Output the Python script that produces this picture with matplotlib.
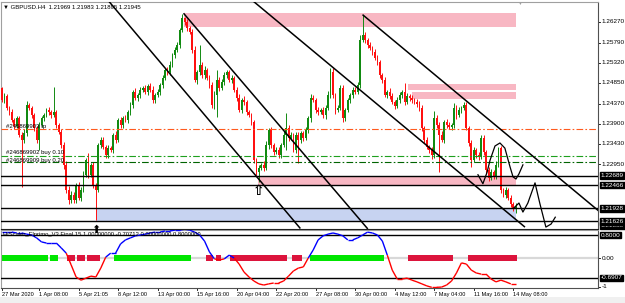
import matplotlib
matplotlib.use('Agg')
import matplotlib.pyplot as plt
import matplotlib.transforms as mtransforms
from matplotlib.patches import Rectangle
from matplotlib.collections import LineCollection
import numpy as np

plt.rcParams['font.family'] = ['Liberation Sans', 'DejaVu Sans']

# GBPUSD H4 candles, one close per bar (open = previous close)
first_open = 1.2473
closes = [
    1.2445, 1.2455, 1.2427, 1.2417, 1.2399, 1.2385, 1.2403, 1.2364, 1.2352, 1.2368,
    1.2434, 1.2427, 1.2410, 1.2380, 1.2352, 1.2387, 1.2403, 1.2410, 1.2422, 1.2417,
    1.2410, 1.2417, 1.2387, 1.2371, 1.2340, 1.2294, 1.2236, 1.2212, 1.2224, 1.2212,
    1.2247, 1.2217, 1.2236, 1.2271, 1.2305, 1.2271, 1.2294, 1.2247, 1.2236, 1.2340,
    1.2352, 1.2336, 1.2317, 1.2333, 1.2329, 1.2364, 1.2352, 1.2399, 1.2387, 1.2403,
    1.2399, 1.2417, 1.2434, 1.2464, 1.2450, 1.2457, 1.2469, 1.2473, 1.2464, 1.2478,
    1.2469, 1.2445, 1.2457, 1.2464, 1.2480, 1.2497, 1.2515, 1.2510, 1.2527, 1.2550,
    1.2562, 1.2573, 1.2608, 1.2636, 1.2627, 1.2613, 1.2604, 1.2562, 1.2492, 1.2510,
    1.2527, 1.2503, 1.2515, 1.2497, 1.2480, 1.2434, 1.2457, 1.2492, 1.2473, 1.2487,
    1.2503, 1.2510, 1.2492, 1.2497, 1.2469, 1.2450, 1.2422, 1.2445, 1.2441, 1.2417,
    1.2410, 1.2394, 1.2305, 1.2278, 1.2287, 1.2294, 1.2287, 1.2340, 1.2375, 1.2340,
    1.2324, 1.2329, 1.2317, 1.2340, 1.2364, 1.2380, 1.2357, 1.2364, 1.2329, 1.2364,
    1.2352, 1.2368, 1.2357, 1.2375, 1.2403, 1.2450, 1.2445, 1.2422, 1.2417, 1.2422,
    1.2410, 1.2427, 1.2457, 1.2510, 1.2457, 1.2422, 1.2427, 1.2473, 1.2403, 1.2422,
    1.2445, 1.2457, 1.2469, 1.2464, 1.2480, 1.2585, 1.2597, 1.2585, 1.2573, 1.2566,
    1.2557, 1.2543, 1.2534, 1.2503, 1.2492, 1.2457, 1.2464, 1.2455, 1.2441, 1.2431,
    1.2445, 1.2457, 1.2464, 1.2441, 1.2455, 1.2450, 1.2445, 1.2441, 1.2436, 1.2427,
    1.2380, 1.2352, 1.2336, 1.2329, 1.2317, 1.2403, 1.2387, 1.2364, 1.2352, 1.2394,
    1.2387, 1.2382, 1.2387, 1.2427, 1.2410, 1.2422, 1.2427, 1.2434, 1.2380, 1.2345,
    1.2305, 1.2329, 1.2317, 1.2312, 1.2357, 1.2324, 1.2282, 1.2264, 1.2278, 1.2268,
    1.2294, 1.2333, 1.2236, 1.2224, 1.2236, 1.2217, 1.2203, 1.2191, 1.2195,
]
# wick lengths in pips (0.0001) above / below the body
wick_up = [
    3, 6, 5, 4, 8, 5, 6, 4, 7, 9,
    8, 5, 4, 6, 5, 7, 4, 6, 5, 8,
    6, 59, 5, 4, 6, 7, 10, 8, 8, 6,
    5, 7, 6, 8, 6, 17, 5, 6, 4, 5,
    6, 8, 5, 7, 6, 5, 9, 4, 6, 5,
    7, 5, 6, 5, 8, 4, 6, 5, 7, 5,
    6, 8, 5, 6, 4, 7, 5, 6, 8, 5,
    6, 7, 5, 10, 3, 6, 5, 7, 8, 6,
    46, 6, 9, 5, 7, 6, 8, 23, 6, 7,
    8, 5, 6, 7, 5, 6, 8, 6, 9, 5,
    6, 5, 4, 6, 7, 5, 8, 9, 6, 7,
    5, 6, 7, 5, 8, 35, 6, 7, 5, 6,
    7, 5, 6, 8, 6, 9, 7, 5, 6, 5,
    7, 6, 8, 10, 9, 5, 7, 8, 6, 5,
    6, 5, 7, 6, 8, 12, 46, 6, 5, 7,
    5, 6, 8, 5, 6, 7, 5, 8, 6, 5,
    7, 6, 5, 21, 6, 5, 7, 5, 6, 8,
    6, 5, 7, 5, 6, 16, 7, 6, 8, 5,
    6, 7, 5, 11, 6, 8, 5, 7, 6, 5,
    7, 6, 5, 8, 6, 7, 5, 6, 7, 5,
    8, 3, 6, 5, 7, 5, 6, 4, 10,
]
wick_dn = [
    5, 6, 4, 7, 5, 8, 6, 5, 109, 7,
    6, 5, 7, 8, 6, 23, 5, 6, 4, 7,
    6, 5, 8, 6, 7, 9, 8, 10, 7, 6,
    8, 6, 7, 5, 6, 7, 5, 8, 70, 6,
    7, 5, 8, 6, 5, 7, 6, 5, 8, 6,
    5, 7, 6, 8, 5, 6, 7, 5, 6, 8,
    5, 6, 7, 5, 8, 6, 5, 7, 6, 5,
    6, 5, 7, 5, 6, 8, 5, 7, 6, 9,
    6, 7, 8, 5, 6, 7, 9, 51, 6, 5,
    7, 6, 5, 8, 6, 7, 5, 6, 8, 7,
    5, 6, 7, 8, 24, 6, 7, 5, 8, 6,
    7, 5, 6, 8, 5, 35, 7, 6, 5, 8,
    54, 6, 7, 5, 6, 8, 5, 7, 6, 5,
    6, 8, 5, 7, 6, 9, 5, 6, 8, 7,
    5, 6, 7, 5, 6, 8, 5, 6, 7, 5,
    6, 5, 7, 6, 8, 5, 6, 7, 5, 6,
    5, 7, 6, 8, 5, 6, 7, 5, 6, 7,
    8, 6, 5, 7, 10, 6, 8, 86, 5, 7,
    6, 5, 7, 6, 8, 5, 7, 6, 5, 8,
    16, 5, 7, 6, 5, 8, 6, 7, 5, 6,
    7, 6, 7, 5, 8, 6, 7, 5, 10,
]

# oscillator, sampled every 2 bars
osc_step = 2
osc = [
    0.90, 0.90, 0.90, 0.87, 0.87, 0.83, 0.80, 0.70, 0.56, 0.52,
    0.52, 0.52, 0.35, 0.17, -0.24, -0.66, -0.77, -0.70, -0.63, -0.66,
    -0.35, 0.03, 0.17, 0.17, 0.49, 0.63, 0.70, 0.77, 0.80, 0.83,
    0.87, 0.90, 0.90, 0.94, 0.94, 0.97, 0.97, 1.00, 0.97, 0.90,
    0.80, 0.59, 0.21, -0.03, -0.07, -0.03, 0.10, 0.00, -0.21, -0.49,
    -0.66, -0.80, -0.90, -0.94, -0.90, -0.87, -0.87, -0.80, -0.63, -0.45,
    -0.35, -0.31, 0.00, 0.28, 0.63, 0.77, 0.83, 0.87, 0.83, 0.77,
    0.63, 0.63, 0.70, 0.80, 0.90, 0.87, 0.80, 0.59, 0.10, -0.42,
    -0.73, -0.73, -0.70, -0.77, -0.83, -0.90, -0.97, -1.02, -1.02, -1.01,
    -0.94, -0.80, -0.52, -0.17, -0.21, -0.42, -0.52, -0.56, -0.56, -0.73,
    -0.83, -0.77, -0.83, -0.90, -0.90,
]
# trend state per bar as runs: g = up, r = down, n = none
status_runs = [('g', 19), ('n', 1), ('g', 3), ('n', 4), ('r', 3), ('n', 1), ('r', 3),
               ('n', 1), ('r', 5), ('n', 6), ('g', 31), ('n', 6), ('r', 3), ('n', 1),
               ('r', 2), ('n', 4), ('r', 23), ('n', 2), ('r', 4), ('n', 3), ('g', 30),
               ('n', 10), ('r', 18), ('n', 6), ('r', 20)]

date_bars = [0, 15, 31, 47, 63, 79, 95, 111, 127, 143, 159, 175, 191, 207]
date_labels = ['27 Mar 2020', '1 Apr 08:00', '5 Apr 21:05', '8 Apr 12:00', '13 Apr 00:00',
               '15 Apr 16:00', '20 Apr 04:00', '22 Apr 20:00', '27 Apr 08:00',
               '30 Apr 00:00', '4 May 12:00', '7 May 04:00', '11 May 16:00', '14 May 08:00']

price_ticks = [1.2627, 1.2579, 1.2532, 1.2485, 1.2437, 1.2390, 1.2343, 1.2295]
black_levels = [1.22689, 1.22466, 1.21928, 1.21626]
tp_level = 1.2377
buy_levels = [1.2315, 1.2300]
osc_levels = [0.8, -0.6907]

# zones: bar from, bar to, price low, price high
pink_zones = [(73.7, 208.2, 1.2616, 1.2647), (164.4, 208.2, 1.2469, 1.2483),
              (166.0, 208.2, 1.2448, 1.2464), (103.6, 208.2, 1.22466, 1.22689)]
blue_zone = (38.0, 208.2, 1.21626, 1.21928)

# channel lines: (bar, price) -> (bar, price)
channels = [((43.0, 1.2677), (120.6, 1.2147)), ((73.7, 1.2646), (147.9, 1.2146)),
            ((101.2, 1.2678), (211.5, 1.2150)), ((146.2, 1.2643), (241.3, 1.2188))]

# hand drawn projections
path1_x = [192.7, 194.7, 196.4, 197.6, 199.6, 201.6, 203.6, 205.7, 206.9, 208.1, 209.3, 210.9]
path1_y = [1.2271, 1.2250, 1.2277, 1.2305, 1.2338, 1.2345, 1.2333, 1.2289, 1.2266, 1.2261, 1.2273, 1.2294]
path2_x = [207.3, 209.3, 210.9, 212.9, 215.8, 217.8, 220.2, 222.3, 224.0]
path2_y = [1.2194, 1.2205, 1.2184, 1.2205, 1.2252, 1.2203, 1.2149, 1.2156, 1.2172]

W, H = 625, 303
fig = plt.figure(figsize=(W / 100, H / 100), dpi=100)
fig.patch.set_facecolor('white')
fig.patches.append(Rectangle((0, 0), 1, 6 / H, transform=fig.transFigure,
                             facecolor='#f0f0f0', edgecolor='none'))

ax = fig.add_axes([1 / W, 1 - 229 / H, 597 / W, 227 / H])
ax2 = fig.add_axes([1 / W, 1 - 288 / H, 597 / W, 58 / H])
ax.set_zorder(3)
ax2.set_zorder(1)

xmin, xmax = -0.4, 241.3
ax.set_xlim(xmin, xmax)
ax.set_ylim(1.21445, 1.26736)
ax2.set_xlim(xmin, xmax)
ax2.set_ylim(-1.043, 0.974)

for a in (ax, ax2):
    a.set_xticks([])
    a.set_yticks([])
    for s in a.spines.values():
        s.set_color('#a0a0a0')
        s.set_linewidth(0.8)
    a.spines['right'].set_color('#505050')
ax.spines['bottom'].set_color('#202020')
ax2.spines['bottom'].set_color('#505050')

# zones
for x0, x1, y0, y1 in pink_zones:
    ax.add_patch(Rectangle((x0, y0), x1 - x0, y1 - y0, facecolor='#f8b7c3',
                           edgecolor='none', zorder=1))
x0, x1, y0, y1 = blue_zone
ax.add_patch(Rectangle((x0, y0), x1 - x0, y1 - y0, facecolor='#c7d3f1',
                       edgecolor='none', zorder=1))

# candles
c = np.array(closes)
o = np.concatenate([[first_open], c[:-1]])
hi = np.maximum(o, c) + np.array(wick_up) * 1e-4
lo = np.minimum(o, c) - np.array(wick_dn) * 1e-4
idx = np.arange(len(c))
col = np.where(c >= o, '#118a11', '#ff1010')
ax.vlines(idx, lo, hi, colors=col, linewidth=0.7, zorder=3)
ax.bar(idx, np.maximum(np.abs(c - o), 0.00006), bottom=np.minimum(o, c),
       width=0.72, color=col, linewidth=0, zorder=3)

# horizontal levels
for lv in black_levels:
    ax.axhline(lv, color='black', linewidth=1.0, zorder=4)
ax.axhline(tp_level, color='#ff5a1e', linewidth=0.8, dashes=(6, 2, 1.5, 2), zorder=4)
ax.axhline(buy_levels[0], color='#1ea01e', linewidth=0.8, dashes=(6, 2, 1.5, 2), zorder=4)
ax.axhline(buy_levels[1], color='#006400', linewidth=0.8, dashes=(6, 2, 1.5, 2), zorder=4)

# channels and projections
for (xa, ya), (xb, yb) in channels:
    ax.plot([xa, xb], [ya, yb], color='black', linewidth=1.1, zorder=5)
ax.plot(path1_x, path1_y, color='black', linewidth=0.9, zorder=5)
ax.plot(path2_x, path2_y, color='black', linewidth=0.9, zorder=5)

# arrows under the two swing lows
ax.annotate('\u21e7', xy=(104, lo[104]), xytext=(0, -1.5), textcoords='offset points',
            ha='center', va='top', fontsize=10, fontweight='bold', color='black',
            family='DejaVu Sans', zorder=6)
ax.annotate('\u2b06', xy=(38, lo[38]), xytext=(0, -3.5), textcoords='offset points',
            ha='center', va='top', fontsize=8, color='black', family='DejaVu Sans',
            annotation_clip=False, zorder=6)

# chart texts
ax.text(2 / 597, 0.978, '\u25bc GBPUSD.H4  1.21969 1.21983 1.21895 1.21945',
        transform=ax.transAxes, fontsize=4.3, va='center', ha='left', color='black')
ax.text(518 / 597, 0.995, '\u25bc', transform=ax.transAxes, fontsize=3.5,
        va='center', ha='center', color='#a0a0a0')
ax.annotate('#246869903 tp', xy=(1.5, tp_level), xytext=(0, 2), textcoords='offset points',
            fontsize=4.3, va='center', ha='left', zorder=6)
ax.annotate('#246869902 buy 0.10', xy=(1.5, buy_levels[0]), xytext=(0, 2.2),
            textcoords='offset points', fontsize=4.3, va='center', ha='left', zorder=6)
ax.annotate('#246869909 buy 0.20', xy=(1.5, buy_levels[1]), xytext=(0, 1.6),
            textcoords='offset points', fontsize=4.3, va='center', ha='left', zorder=6)

# right price scale
fs_axis = 4.6
tr = mtransforms.blended_transform_factory(ax.transAxes, ax.transData)
for p in price_ticks:
    ax.plot([1.0, 1.004], [p, p], transform=tr, color='black', linewidth=0.6, clip_on=False)
    ax.text(1.0055, p, '%.5f' % p, transform=tr, fontsize=fs_axis, va='center', ha='left')
box = dict(boxstyle='square,pad=0.12', facecolor='black', edgecolor='black')
ax.text(1.0045, 1.21530, '1.21530', transform=tr, fontsize=fs_axis, va='center', ha='left',
        color='white', bbox=box)
for lv in black_levels:
    ax.text(1.0045, lv, '%.5f' % lv, transform=tr, fontsize=fs_axis, va='center', ha='left',
            color='white', bbox=box)

# oscillator window
ax2.axhline(0, color='#d8d8d8', linewidth=1.6, zorder=1)
pos = 0
for state, n in status_runs:
    if state != 'n':
        ax2.bar(np.arange(pos, pos + n), 0.18, bottom=-0.09, width=1.0,
                color='#00e600' if state == 'g' else '#dc143c', linewidth=0, zorder=2)
    pos += n
for lv in osc_levels:
    ax2.axhline(lv, color='black', linewidth=1.0, zorder=3)
ox = np.arange(len(osc)) * osc_step
oy = np.array(osc)
pts = np.column_stack([ox, oy]).reshape(-1, 1, 2)
segs = np.concatenate([pts[:-1], pts[1:]], axis=1)
seg_col = ['#0000ff' if (a + b) / 2 >= 0 else '#ff0000' for a, b in zip(oy[:-1], oy[1:])]
ax2.add_collection(LineCollection(segs, colors=seg_col, linewidths=1.0, zorder=4))
ax2.text(2 / 597, 0.93, 'HiScaler_Elprimo_V3 Final 15 1.00000000 -0.70712 0.00000000 0.8000000',
         transform=ax2.transAxes, fontsize=4.2, va='center', ha='left', zorder=5)

tr2 = mtransforms.blended_transform_factory(ax2.transAxes, ax2.transData)
for v, s in [(0.8, '0.8000'), (-0.6907, '-0.6907')]:
    ax2.text(1.0045, v, s, transform=tr2, fontsize=fs_axis, va='center', ha='left',
             color='white', bbox=box)
for v, s in [(0.0, '0.00'), (-1.0, '-1')]:
    ax2.plot([1.0, 1.004], [v, v], transform=tr2, color='black', linewidth=0.6, clip_on=False)
    ax2.text(1.0055, v, s, transform=tr2, fontsize=fs_axis, va='center', ha='left')

# date scale
trd = mtransforms.blended_transform_factory(ax2.transData, ax2.transAxes)
for b, s in zip(date_bars, date_labels):
    ax2.plot([b, b], [0, -0.04], transform=trd, color='black', linewidth=0.6, clip_on=False)
    ax2.text(b, -0.105, s, transform=trd, fontsize=4.1, va='center', ha='left')

fig.savefig('out.png', dpi=100)
